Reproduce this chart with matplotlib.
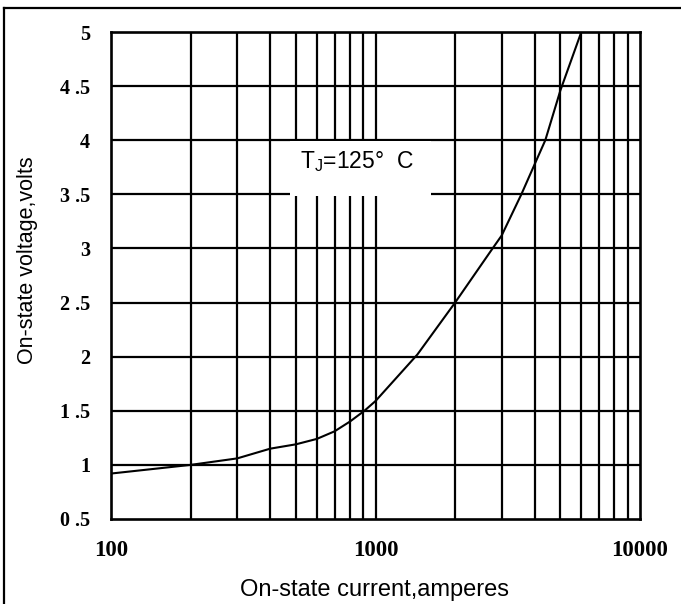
import matplotlib
matplotlib.use("Agg")
import matplotlib.pyplot as plt
from matplotlib.patches import Rectangle
from matplotlib.lines import Line2D

# Data
current = [100, 200, 300, 400, 500, 600, 700, 800, 908, 1000, 1180, 1440,
           2000, 2735, 3000, 3560, 4000, 4385, 5000, 6000]
voltage = [0.92, 1.00, 1.06, 1.15, 1.19, 1.24, 1.31, 1.40, 1.50, 1.59, 1.785, 2.02,
           2.50, 2.98, 3.12, 3.50, 3.78, 4.00, 4.46, 5.00]

y_ticks = [0.5, 1, 1.5, 2, 2.5, 3, 3.5, 4, 4.5, 5]
y_tick_labels = ["0 .5", "1", "1 .5", "2", "2 .5", "3", "3 .5", "4", "4 .5", "5"]
x_ticks = [100, 1000, 10000]
x_tick_labels = ["100", "1000", "10000"]
x_grid = [200, 300, 400, 500, 600, 700, 800, 900, 1000,
          2000, 3000, 4000, 5000, 6000, 7000, 8000, 9000]

W, H = 681, 604
fig = plt.figure(figsize=(W / 100, H / 100), dpi=100)
L, R, T, B = 111, 640, 32, 519
ax = fig.add_axes([L / W, 1 - B / H, (R - L) / W, (B - T) / H])

ax.set_xscale("log")
ax.set_xlim(100, 10000)
ax.set_ylim(0.5, 5)
ax.set_axisbelow(True)

for xv in x_grid:
    ax.axvline(xv, color="black", lw=1.6, zorder=0.5)
for yv in y_ticks[1:-1]:
    ax.axhline(yv, color="black", lw=1.6, zorder=0.5)

for s in ax.spines.values():
    s.set_linewidth(1.9)
    s.set_color("black")

ax.set_yticks(y_ticks)
ax.set_yticklabels(y_tick_labels, fontfamily="Liberation Serif",
                   fontweight="bold", fontsize=14.5)
ax.set_xticks(x_ticks)
ax.set_xticklabels(x_tick_labels, fontfamily="Liberation Serif",
                   fontweight="bold", fontsize=16.5)
ax.xaxis.set_minor_locator(matplotlib.ticker.NullLocator())
ax.tick_params(axis="both", which="both", length=0)
ax.tick_params(axis="y", pad=15)
ax.tick_params(axis="x", pad=15)

# White annotation box
ax.add_patch(Rectangle((473, 3.48), 1626 - 473, 3.99 - 3.48,
                       facecolor="white", edgecolor="none", zorder=1))
ax.text(850, 3.80, r"T$_\mathregular{J}$=125°  C", ha="center", va="center",
        fontfamily="Liberation Sans", fontsize=16.5, zorder=3)

ax.plot(current, voltage, color="black", lw=1.5, zorder=2)

fig.text(375 / W, 1 - 590 / H, "On-state current,amperes", ha="center",
         va="center", fontfamily="Liberation Sans", fontsize=17)
fig.text(27 / W, 1 - 260 / H, "On-state voltage,volts", ha="center",
         va="center", rotation=90, fontfamily="Liberation Sans", fontsize=15.5)

# Outer frame (open at right and bottom)
fig.add_artist(Line2D([4 / W, 4 / W], [1 - 8 / H, 0], transform=fig.transFigure,
                      color="black", lw=1.6))
fig.add_artist(Line2D([4 / W, 1], [1 - 8 / H, 1 - 8 / H], transform=fig.transFigure,
                      color="black", lw=1.6))

fig.savefig("out.png", dpi=100)
